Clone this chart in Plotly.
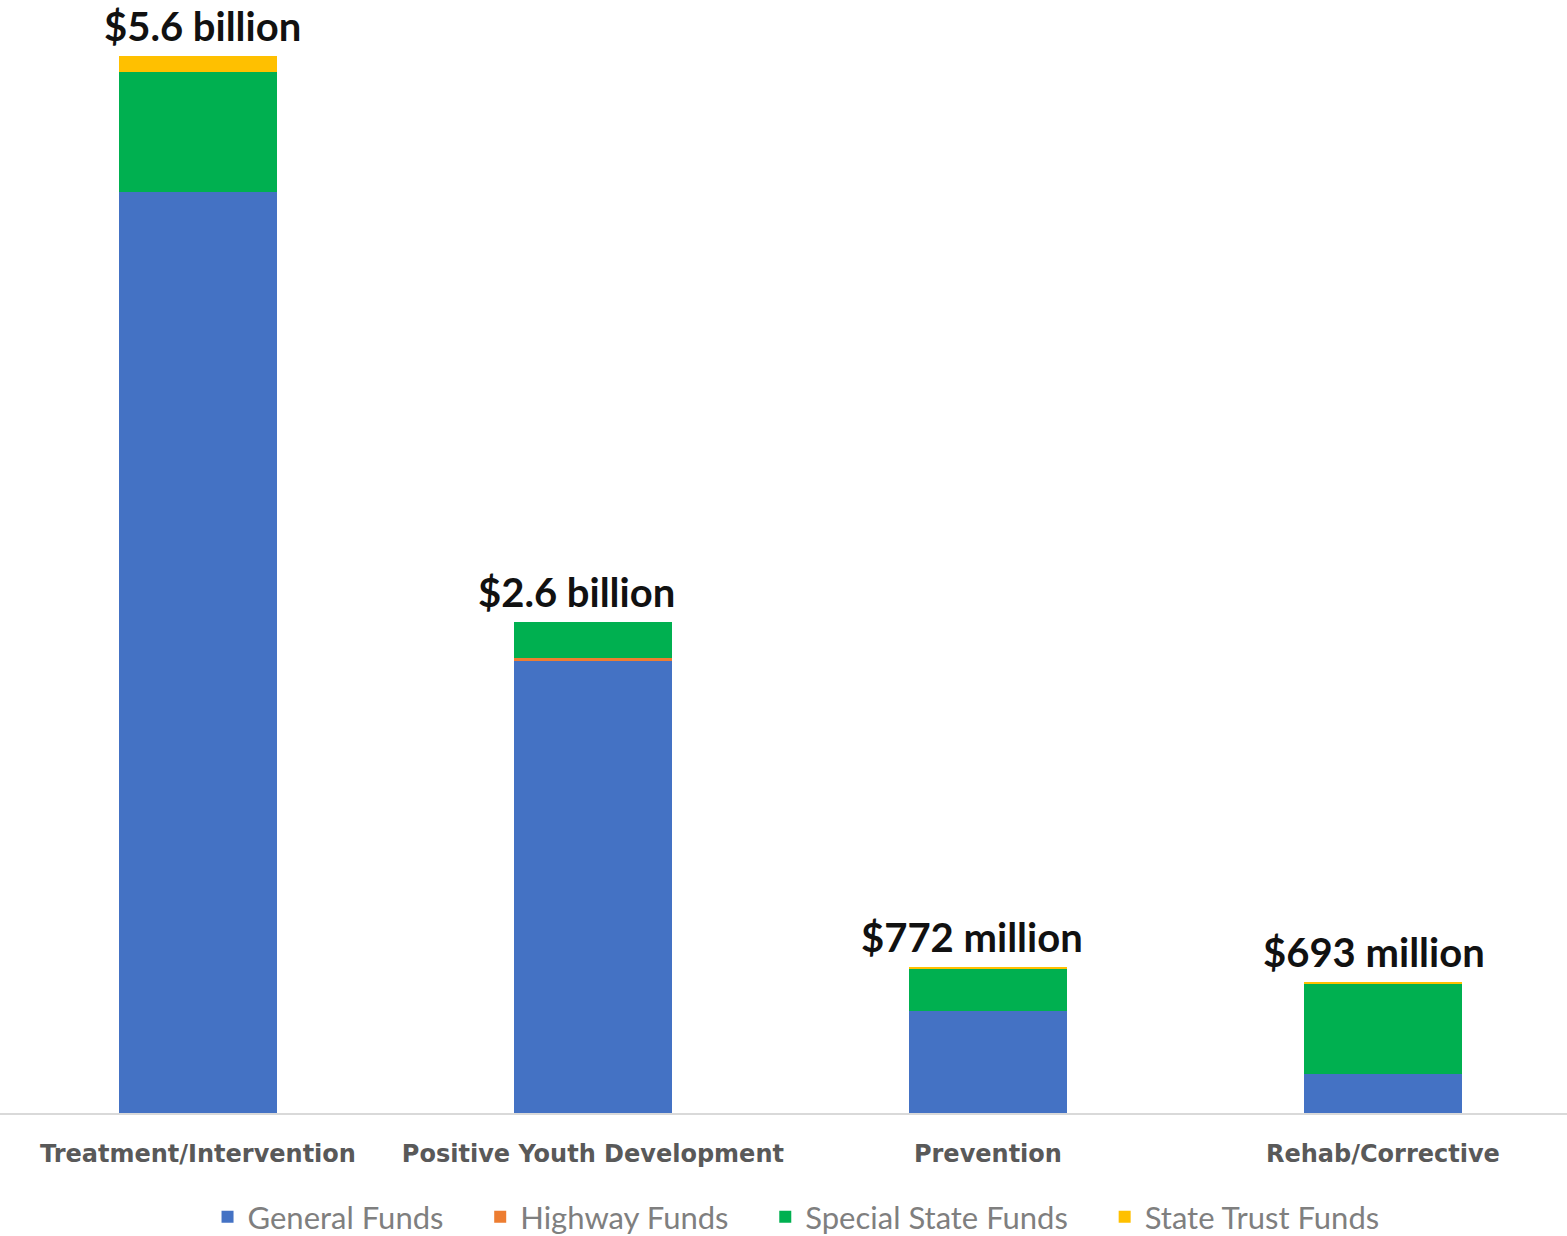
import plotly.graph_objects as go

# Program areas and funding by source (millions of dollars)
categories = ["Treatment/Intervention", "Positive Youth Development", "Prevention", "Rehab/Corrective"]
general_funds = [4880, 2393, 542, 204]
highway_funds = [0, 18, 0, 0]
special_state_funds = [636, 189, 225, 484]
state_trust_funds = [84, 0, 5, 5]
total_labels = ["$5.6 billion", "$2.6 billion", "$772 million", "$693 million"]
series_names = ["General Funds", "Highway Funds", "Special State Funds", "State Trust Funds"]

colors = ["#4472C4", "#ED7D31", "#00B050", "#FFC000"]
series_values = [general_funds, highway_funds, special_state_funds, state_trust_funds]

x_idx = list(range(len(categories)))
pad = "\u00a0" * 4

fig = go.Figure()
for k, (name, vals, color) in enumerate(zip(series_names, series_values, colors)):
    legend_text = name + (pad if k < len(series_names) - 1 else "")
    fig.add_trace(go.Bar(
        x=x_idx, y=vals, name=legend_text,
        marker=dict(color=color, line=dict(width=0)),
        hoverinfo="skip",
    ))

# Total labels above each stack
totals = [sum(v) for v in zip(*series_values)]
label_nudge = [5, -16, -16, -9]
for i, (t, lbl) in enumerate(zip(totals, total_labels)):
    fig.add_annotation(
        x=i, y=t, text=f"<b>{lbl}</b>", showarrow=False,
        yanchor="bottom", yshift=4, xshift=label_nudge[i],
        font=dict(family="Lato", size=40, color="#111111"),
    )

fig.update_layout(
    barmode="stack",
    bargap=0.6,
    width=1567, height=1236,
    margin=dict(l=0, r=0, t=0, b=123, autoexpand=False),
    plot_bgcolor="white", paper_bgcolor="white",
    showlegend=True,
    legend=dict(
        orientation="h", x=0.508, xanchor="center",
        yref="container", y=1 - 1217 / 1236, yanchor="middle",
        font=dict(family="Lato", size=31, color="#7f7f7f"),
        traceorder="normal", itemwidth=30,
    ),
    xaxis=dict(
        range=[-0.501, 3.466],
        tickmode="array", tickvals=x_idx,
        ticktext=[f"<b>{c}</b>" for c in categories],
        tickfont=dict(family="DejaVu Sans", size=24, color="#595959"),
        ticks="", ticklabelstandoff=18,
        showline=True, linecolor="#d9d9d9", linewidth=2,
        showgrid=False, zeroline=False,
    ),
    yaxis=dict(
        range=[0, 5600 * 1113 / 1057],
        visible=False, showgrid=False, zeroline=False,
    ),
)

fig.write_html("out.html")
